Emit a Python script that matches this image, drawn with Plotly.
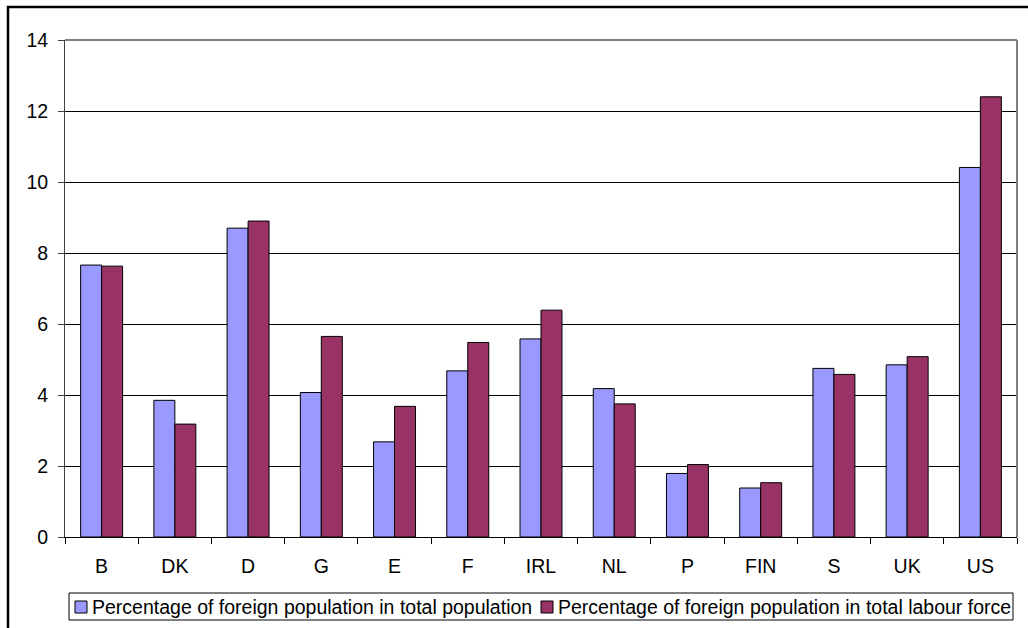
import plotly.graph_objects as go

countries = ["B", "DK", "D", "G", "E", "F", "IRL", "NL", "P", "FIN", "S", "UK", "US"]
pop_share = [7.66, 3.85, 8.70, 4.07, 2.68, 4.68, 5.58, 4.18, 1.79, 1.38, 4.75, 4.85, 10.41]
labour_share = [7.63, 3.18, 8.90, 5.65, 3.68, 5.48, 6.39, 3.75, 2.04, 1.53, 4.58, 5.08, 12.40]
y_ticks = [0, 2, 4, 6, 8, 10, 12, 14]

series_names = [
    "Percentage of foreign population in total population",
    "Percentage of foreign population in total labour force",
]
series_colors = ["#9999FF", "#993366"]

FONT = "Liberation Sans, Arial, sans-serif"
FSIZE = 19.5

fig = go.Figure()
for name, vals, col in zip(series_names, [pop_share, labour_share], series_colors):
    fig.add_trace(go.Bar(
        x=countries, y=vals, name=name,
        marker=dict(color=col, line=dict(color="#000000", width=1)),
    ))

W, H = 1028, 628
ml, mr, mt, mb = 65, 11, 40, 91
pw, ph = W - ml - mr, H - mt - mb


def px_x(p):
    return (p - ml) / pw


def px_y(p):
    return (H - mb - p) / ph


shapes = [
    # grey plot-area border (top and right)
    dict(type="line", xref="paper", yref="paper", x0=0, x1=1, y0=1, y1=1,
         line=dict(color="#808080", width=2)),
    dict(type="line", xref="paper", yref="paper", x0=1, x1=1, y0=0, y1=1,
         line=dict(color="#808080", width=2)),
    # outer chart frame
    dict(type="rect", xref="paper", yref="paper",
         x0=px_x(8), x1=1.1, y0=-0.3, y1=px_y(7),
         line=dict(color="#000000", width=2.5)),
    # legend box
    dict(type="rect", xref="paper", yref="paper",
         x0=px_x(69), x1=px_x(1013), y0=px_y(620), y1=px_y(593),
         line=dict(color="#000000", width=1), fillcolor="white"),
]
annotations = []

# legend entries: swatch + label
legend_starts = [75, 541]
for start, name, col in zip(legend_starts, series_names, series_colors):
    shapes.append(dict(
        type="rect", xref="paper", yref="paper",
        x0=px_x(start), x1=px_x(start + 12), y0=px_y(613), y1=px_y(601),
        line=dict(color="#000000", width=1), fillcolor=col,
    ))
    annotations.append(dict(
        xref="paper", yref="paper", x=px_x(start + 15), y=px_y(607),
        xanchor="left", yanchor="middle", showarrow=False, text=name,
        font=dict(family=FONT, size=FSIZE, color="#000000"),
    ))

fig.update_layout(
    width=W, height=H,
    margin=dict(l=ml, r=mr, t=mt, b=mb, pad=0),
    paper_bgcolor="white", plot_bgcolor="white",
    barmode="group", bargap=0.427, bargroupgap=0,
    font=dict(family=FONT, size=FSIZE, color="#000000"),
    showlegend=False,
    xaxis=dict(
        type="category", showgrid=False, automargin=False,
        showline=True, linecolor="#000000", linewidth=1,
        ticks="outside", ticklen=6, tickcolor="#000000",
        tickson="boundaries", ticklabelstandoff=12,
        tickfont=dict(family=FONT, size=FSIZE),
    ),
    yaxis=dict(
        range=[0, 14], tickvals=y_ticks, automargin=False,
        showgrid=True, gridcolor="#000000", gridwidth=1,
        showline=True, linecolor="#404040", linewidth=1,
        ticks="outside", ticklen=6, tickcolor="#404040",
        ticklabelstandoff=6,
        tickfont=dict(family=FONT, size=FSIZE),
        zeroline=False,
    ),
    shapes=shapes,
    annotations=annotations,
)

fig.write_html("out.html")
